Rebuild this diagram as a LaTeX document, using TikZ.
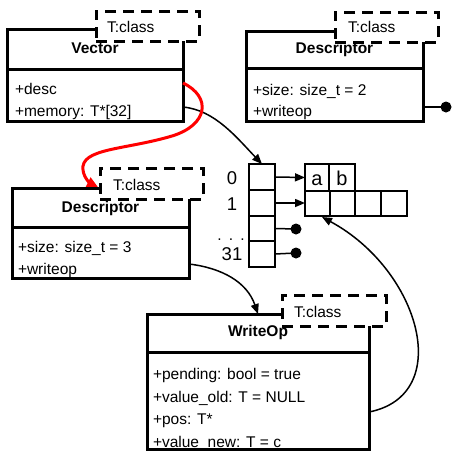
\documentclass[tikz,border=0pt]{standalone}
\usepackage{fontspec}
\setmainfont{Liberation Sans}
\usetikzlibrary{arrows.meta,calc}
\begin{document}
\begin{tikzpicture}[x=1pt,y=-1pt,
  every node/.style={font=\fontsize{15.5}{18}\selectfont, inner sep=0pt, outer sep=0pt},
  classbox/.style={draw, line width=3pt, fill=white, anchor=north west},
  tbox/.style={draw, line width=3pt, dash pattern=on 11pt off 7pt, fill=white, anchor=north west},
  title/.style={font=\fontsize{15.5}{18}\selectfont\bfseries, anchor=base},
  attr/.style={anchor=base west},
  divider/.style={line width=3pt},
  cell/.style={draw, line width=2.8pt, anchor=north west},
  idx/.style={font=\fontsize{18.5}{20}\selectfont, anchor=base},
  celltxt/.style={font=\fontsize{20}{22}\selectfont, anchor=base},
  conn/.style={line width=1.5pt, -{Triangle[length=10pt,width=8pt]}},
  redconn/.style={draw=red, line width=3pt, -{Triangle[length=11pt,width=10pt]}, red},
  stub/.style={line width=1.5pt},
  dotend/.style={circle, fill=black, minimum size=11pt},
]
\useasboundingbox (0,0) rectangle (452,451);

% ---------- Vector ----------
\node[classbox, minimum width=176pt, minimum height=92pt] (vec) at (7,29) {};
\draw[divider] (vec.west |- 0,69) -- (vec.east |- 0,69);
\node[title] (vecname) at (95,53) {Vector};
\node[attr] (vecdesc) at (15,94) {+desc};
\node[attr] (vecmem) at (15,116) {+memory: T*[32]};
\node[tbox, minimum width=103pt, minimum height=30pt] (vecT) at (96,11) {};
\node[attr] (vecTtxt) at (107,32) {T:class};

% ---------- Descriptor (top right) ----------
\node[classbox, minimum width=177pt, minimum height=90pt] (dr) at (246,31) {};
\draw[divider] (dr.west |- 0,68) -- (dr.east |- 0,68);
\node[title] (drname) at (334.5,53) {Descriptor};
\node[attr] (drsize) at (253,95) {+size: size\_t = 2};
\node[attr] (drwop) at (253,116) {+writeop};
\node[tbox, minimum width=103pt, minimum height=30pt] (drT) at (335,12) {};
\node[attr] (drTtxt) at (348,32) {T:class};
\node[dotend] (drdot) at (446,107) {};
\coordinate (drwopend) at (423,107);
\draw[stub] (drwopend) -- (drdot.center);

% ---------- Descriptor (left) ----------
\node[classbox, minimum width=177pt, minimum height=90pt] (dl) at (12,188) {};
\draw[divider] (dl.west |- 0,227) -- (dl.east |- 0,227);
\node[title] (dlname) at (100.5,212) {Descriptor};
\node[attr] (dlsize) at (18,252) {+size: size\_t = 3};
\node[attr] (dlwop) at (18,274) {+writeop};
\node[tbox, minimum width=103pt, minimum height=31pt] (dlT) at (100,168) {};
\node[attr] (dlTtxt) at (113,190) {T:class};

% ---------- WriteOp ----------
\node[classbox, minimum width=222pt, minimum height=135pt] (wo) at (147,314) {};
\draw[divider] (wo.west |- 0,352) -- (wo.east |- 0,352);
\node[title] (woname) at (258,336) {WriteOp};
\node[attr] (wo1) at (153,379) {+pending: bool = true};
\node[attr] (wo2) at (153,402) {+value\_old: T = NULL};
\node[attr] (wo3) at (153,424) {+pos: T*};
\node[attr] (wo4) at (153,447) {+value\_new: T = c};
\node[tbox, minimum width=104pt, minimum height=31pt] (woT) at (282,295) {};
\node[attr] (woTtxt) at (294,317) {T:class};

% ---------- pointer array ----------
\node[cell, minimum width=26pt, minimum height=26pt] (c0) at (249,164) {};
\node[cell, minimum width=26pt, minimum height=26pt] (c1) at (249,190) {};
\node[cell, minimum width=26pt, minimum height=25pt] (c2) at (249,216) {};
\node[cell, minimum width=26pt, minimum height=26pt] (c3) at (249,241) {};
\node[idx] (l0) at (232,184) {0};
\node[idx] (l1) at (232,210) {1};
\node[anchor=base] (ldots) at (231,240) {.\hspace{7.2pt}.\hspace{7.2pt}.};
\node[idx] (l31) at (232,260) {31};

% ---------- memory cells ----------
\node[cell, minimum width=24pt, minimum height=27pt] (m0) at (305,164) {};
\node[cell, minimum width=26pt, minimum height=27pt] (m1) at (329,164) {};
\node[celltxt] (ta) at (m0.center |- 0,185) {a};
\node[celltxt] (tb) at (m1.center |- 0,185) {b};
\node[cell, minimum width=25pt, minimum height=25pt] (m2) at (305,191) {};
\node[cell, minimum width=25pt, minimum height=25pt] (m3) at (330,191) {};
\node[cell, minimum width=26pt, minimum height=25pt] (m4) at (355,191) {};
\node[cell, minimum width=26pt, minimum height=25pt] (m5) at (381,191) {};

\draw[conn] (c0.east) -- (m0.west);
\draw[conn] (c1.east) -- (c1.east -| m2.west);
\node[dotend] (d2) at (296,229) {};
\node[dotend] (d3) at (296,253) {};
\draw[stub] (c2.east) -- (d2.center);
\draw[stub] (c3.east) -- (d3.center);

% ---------- connectors ----------
\coordinate (vecdescend) at (183,83);
\coordinate (vecmemend) at (183,107);
\coordinate (dlwopend) at (189,264);
\coordinate (wopos) at (369,412);
\coordinate (dltip) at (98,187);
\coordinate (memtip) at (322,217);

\draw[conn] (vecmemend) .. controls (215,110) and (237,138) .. (c0.north);
\draw[conn] (dlwopend) .. controls (222,268) and (247,282) .. (wo.north);
\draw[conn] (wopos) .. controls (455,395) and (420,270) .. (memtip);
\draw[redconn] (vecdescend) .. controls (212,97) and (208,125) .. (172,136)
   .. controls (125,150) and (80,148) .. (83,170)
   .. controls (84,178) and (90,183) .. (dltip);
\end{tikzpicture}
\end{document}
